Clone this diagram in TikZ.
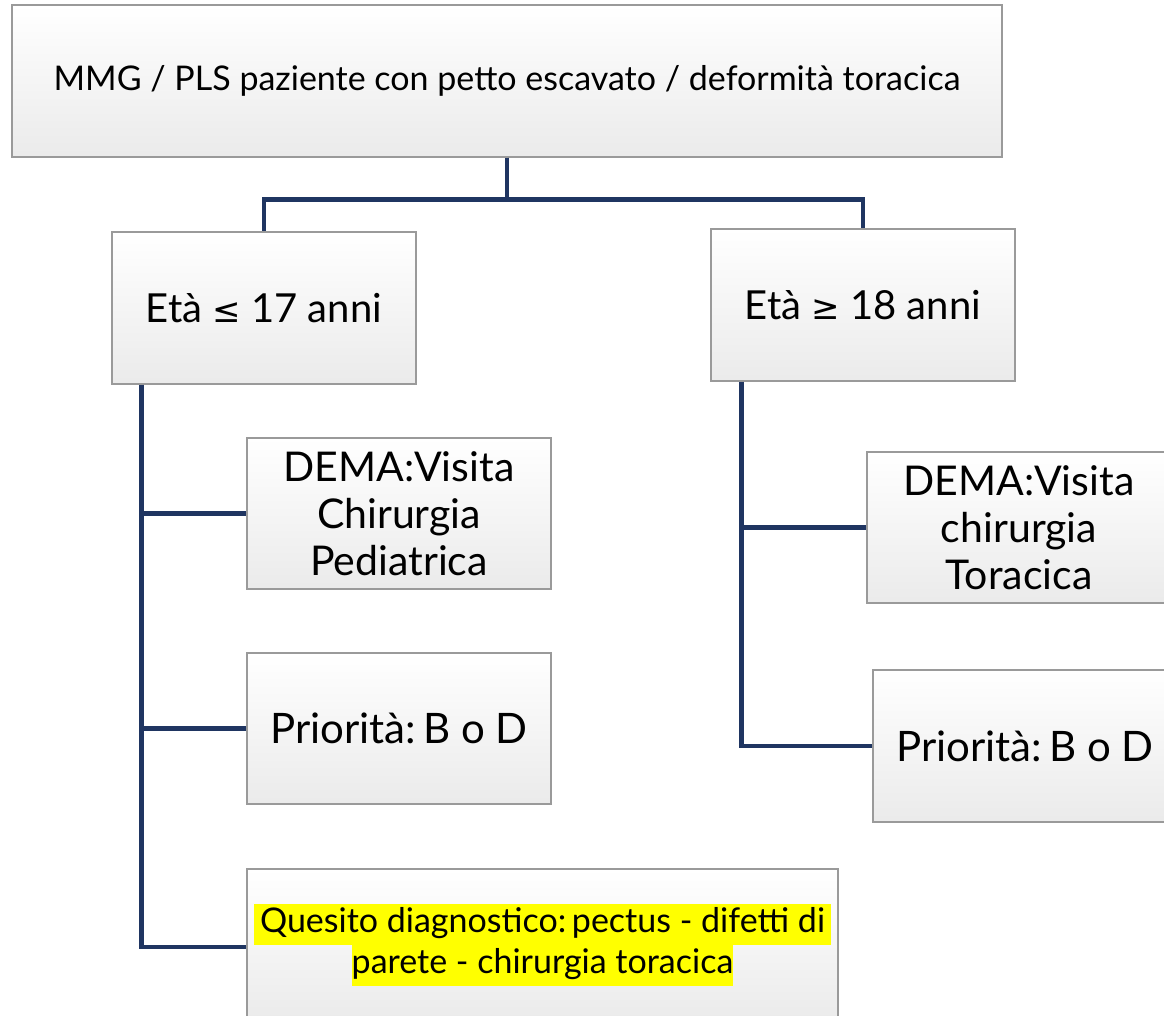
\documentclass[tikz,border=0pt]{standalone}
\usepackage{fontspec}
\setmainfont{Lato}
\newfontfamily\symf{DejaVu Sans}
\usepackage{xcolor}
\definecolor{navy}{HTML}{1F3561}
\definecolor{boxedge}{HTML}{9A9A9A}
\definecolor{hl}{HTML}{FFFF00}
\begin{document}
\frenchspacing
\begin{tikzpicture}[x=1pt,y=-1pt,
  box/.style={draw=boxedge, line width=1.5pt, top color=white, bottom color=black!8,
    minimum width=304pt, minimum height=152pt, align=center, inner sep=0pt, text=black},
  conn/.style={draw=navy, line width=4.6pt}]
\useasboundingbox (0,0) rectangle (1164,1016);
\clip (0,0) rectangle (1164,1016);
\fill[white] (0,0) rectangle (1164,1016);

\node[box, minimum width=990pt, font=\fontsize{34}{40}\selectfont] (top) at (507,81)
  {MMG / PLS paziente con petto escavato / deformità toracica};

\node[box, font=\fontsize{40}{46}\selectfont] (l1) at (264,308) {Età {\symf\fontsize{34}{40}\selectfont ≤} 17 anni};
\node[box, font=\fontsize{40}{46}\selectfont] (r1) at (863,305) {Età {\symf\fontsize{34}{40}\selectfont ≥} 18 anni};

\node[box, minimum height=151pt, font=\fontsize{41}{47}\selectfont] (l2) at (399,513.5)
  {DEMA:Visita\\Chirurgia\\Pediatrica};
\node[box, minimum height=151pt, font=\fontsize{42}{46}\selectfont] (l3) at (399,728.5)
  {Priorità:\,B o D};
\node[box, minimum width=591pt, font=\fontsize{34}{41}\selectfont] (l4) at (542.5,945)
  {\setlength{\fboxsep}{0pt}\colorbox{hl}{\strut\,Quesito diagnostico:\,pectus - difetti di\,}\\
   \setlength{\fboxsep}{0pt}\colorbox{hl}{\strut parete - chirurgia toracica}};

\node[box, minimum height=151pt, font=\fontsize{41}{47}\selectfont] (r2) at (1019,527.5)
  {DEMA:Visita\\chirurgia\\Toracica};
\node[box, font=\fontsize{42}{46}\selectfont] (r3) at (1025,746)
  {Priorità:\,B o D};

\draw[conn] (top.south) -- ++(0,42) -| (l1.north);
\draw[conn] (top.south) -- ++(0,42) -| (r1.north);

\coordinate (lt) at ([xshift=30pt]l1.south west);
\coordinate (rt) at ([xshift=31pt]r1.south west);
\draw[conn] (lt) |- (l2.west);
\draw[conn] (lt) |- (l3.west);
\draw[conn] (lt) |- ([yshift=-2pt]l4.west);
\draw[conn] (rt) |- (r2.west);
\draw[conn] (rt) |- (r3.west);
\end{tikzpicture}
\end{document}
